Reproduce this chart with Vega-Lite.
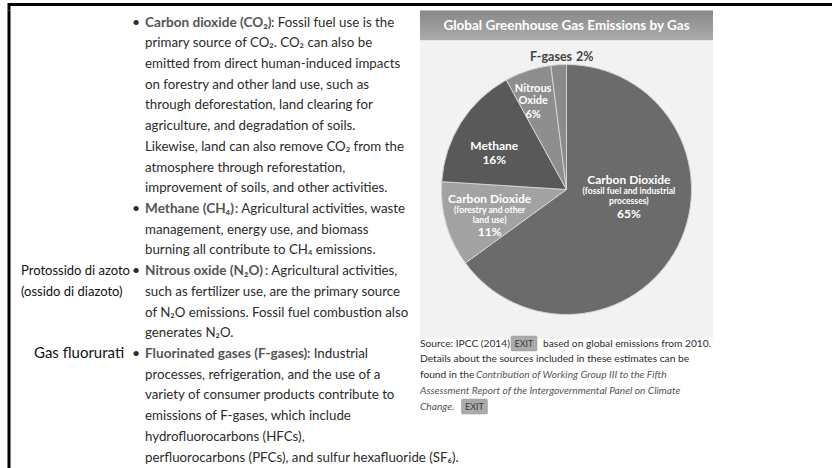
{
  "$schema": "https://vega.github.io/schema/vega-lite/v6.json",
  "padding": {"left": 7, "top": 2.5, "right": 0, "bottom": 0},
  "background": "white",
  "bounds": "flush",
  "spacing": 0,
  "datasets": {
    "body": [
      {"line": 1, "col": "body", "kind": "bullet", "text": "•"},
      {"line": 1, "col": "body", "kind": "head", "text": "Carbon dioxide (CO₂)"},
      {"line": 1, "col": "body", "kind": "rest1", "text": ": Fossil fuel use is the"},
      {"line": 2, "col": "body", "kind": "plain", "text": "primary source of CO₂.  CO₂ can also be"},
      {"line": 3, "col": "body", "kind": "plain", "text": "emitted from direct human-induced impacts"},
      {"line": 4, "col": "body", "kind": "plain", "text": "on forestry and other land use, such as"},
      {"line": 5, "col": "body", "kind": "plain", "text": "through deforestation, land clearing for"},
      {"line": 6, "col": "body", "kind": "plain", "text": "agriculture, and degradation of soils."},
      {"line": 7, "col": "body", "kind": "plain", "text": "Likewise, land can also remove CO₂ from the"},
      {"line": 8, "col": "body", "kind": "plain", "text": "atmosphere through reforestation,"},
      {"line": 9, "col": "body", "kind": "plain", "text": "improvement of soils, and other activities."},
      {"line": 10, "col": "body", "kind": "bullet", "text": "•"},
      {"line": 10, "col": "body", "kind": "head", "text": "Methane (CH₄)"},
      {"line": 10, "col": "body", "kind": "rest2", "text": ": Agricultural activities, waste"},
      {"line": 11, "col": "body", "kind": "plain", "text": "management, energy use, and biomass"},
      {"line": 12, "col": "body", "kind": "plain", "text": "burning all contribute to CH₄ emissions."},
      {"line": 13, "col": "note", "kind": "note", "text": "Protossido di azoto"},
      {"line": 14, "col": "note", "kind": "note", "text": "(ossido di diazoto)"},
      {"line": 13, "col": "body", "kind": "bullet", "text": "•"},
      {"line": 13, "col": "body", "kind": "head", "text": "Nitrous oxide (N₂O)"},
      {"line": 13, "col": "body", "kind": "rest3", "text": ": Agricultural activities,"},
      {"line": 14, "col": "body", "kind": "plain", "text": "such as fertilizer use, are the primary source"},
      {"line": 15, "col": "body", "kind": "plain", "text": "of N₂O emissions. Fossil fuel combustion also"},
      {"line": 16, "col": "body", "kind": "plain", "text": "generates N₂O."},
      {"line": 17, "col": "note", "kind": "note2", "text": "Gas fluorurati"},
      {"line": 17, "col": "body", "kind": "bullet", "text": "•"},
      {"line": 17, "col": "body", "kind": "head", "text": "Fluorinated gases (F-gases)"},
      {"line": 17, "col": "body", "kind": "rest4", "text": ": Industrial"},
      {"line": 18, "col": "body", "kind": "plain", "text": "processes, refrigeration, and the use of a"},
      {"line": 19, "col": "body", "kind": "plain", "text": "variety of consumer products contribute to"},
      {"line": 20, "col": "body", "kind": "plain", "text": "emissions of F-gases, which include"},
      {"line": 21, "col": "body", "kind": "plain", "text": "hydrofluorocarbons (HFCs),"},
      {"line": 22, "col": "body", "kind": "plain", "text": "perfluorocarbons (PFCs), and sulfur hexafluoride (SF₆)."}
    ],
    "pie": [
      {"gas": "co2_fossil", "name": "Carbon Dioxide", "note": "(fossil fuel and industrial\nprocesses)", "share": 0.65, "order": 1},
      {"gas": "co2_forest", "name": "Carbon Dioxide", "note": "(forestry and other\nland use)", "share": 0.11, "order": 2},
      {"gas": "methane", "name": "Methane", "note": "", "share": 0.16, "order": 3},
      {"gas": "n2o", "name": "Nitrous\nOxide", "note": "", "share": 0.06, "order": 4},
      {"gas": "fgas", "name": "F-gases", "note": "", "share": 0.02, "order": 5}
    ],
    "src": [
      {"line": 1, "seg": "a", "text": "Source: IPCC (2014)"},
      {"line": 1, "seg": "b", "text": "based on global emissions from 2010."},
      {"line": 2, "seg": "a", "text": "Details about the sources included in these estimates can be"},
      {"line": 3, "seg": "a", "text": "found in the"},
      {"line": 3, "seg": "link3", "text": "Contribution of Working Group III to the Fifth"},
      {"line": 4, "seg": "link", "text": "Assessment Report of the Intergovernmental Panel on Climate"},
      {"line": 5, "seg": "link", "text": "Change."}
    ],
    "badges": [
      {"line": 1, "badge": "b1", "text": "EXIT"},
      {"line": 5, "badge": "b2", "text": "EXIT"}
    ]
  },
  "vconcat": [
    {
      "width": 830,
      "height": 6,
      "data": {"values": []},
      "view": {"stroke": "black", "strokeWidth": 3, "strokeDash": [830, 836, 6]},
      "mark": {"type": "text"},
      "encoding": {"text": {"value": ""}}
    },
    {
      "bounds": "flush",
      "spacing": 0,
      "hconcat": [
        {
          "width": 411,
          "height": 460,
          "data": {"name": "body"},
          "view": {"stroke": "black", "strokeWidth": 3, "strokeDash": [0, 1282, 460]},
          "encoding": {
            "x": {"field": "col", "type": "nominal", "scale": {"type": "point", "domain": ["note", "body"], "range": [12, 136], "padding": 0}, "axis": null},
            "y": {"field": "line", "type": "quantitative", "scale": {"domain": [1, 22], "range": [12, 447]}, "axis": null},
            "text": {"field": "text"}
          },
          "layer": [
            {"transform": [{"filter": "datum.kind === 'plain'"}], "mark": {"type": "text", "align": "left", "baseline": "middle", "font": "Lato", "fontSize": 13.3, "fill": "#2b2b2b"}},
            {"transform": [{"filter": "datum.kind === 'head'"}], "mark": {"type": "text", "align": "left", "baseline": "middle", "font": "Lato", "fontSize": 13.6, "fontWeight": "bold", "fill": "#555555"}},
            {"transform": [{"filter": "datum.kind === 'bullet'"}], "mark": {"type": "text", "align": "center", "baseline": "middle", "font": "Lato", "fontSize": 14, "dx": -9, "fill": "#2b2b2b"}},
            {"transform": [{"filter": "datum.kind === 'rest1'"}], "mark": {"type": "text", "align": "left", "baseline": "middle", "font": "Lato", "fontSize": 13.3, "dx": 126, "fill": "#2b2b2b"}},
            {"transform": [{"filter": "datum.kind === 'rest2'"}], "mark": {"type": "text", "align": "left", "baseline": "middle", "font": "Lato", "fontSize": 13.3, "dx": 90, "fill": "#2b2b2b"}},
            {"transform": [{"filter": "datum.kind === 'rest3'"}], "mark": {"type": "text", "align": "left", "baseline": "middle", "font": "Lato", "fontSize": 13.3, "dx": 120, "fill": "#2b2b2b"}},
            {"transform": [{"filter": "datum.kind === 'rest4'"}], "mark": {"type": "text", "align": "left", "baseline": "middle", "font": "Lato", "fontSize": 13.3, "dx": 162, "fill": "#2b2b2b"}},
            {"transform": [{"filter": "datum.kind === 'note'"}], "mark": {"type": "text", "align": "left", "baseline": "middle", "font": "Lato", "fontSize": 13, "fill": "#111"}},
            {"transform": [{"filter": "datum.kind === 'note2'"}], "mark": {"type": "text", "align": "left", "baseline": "middle", "font": "Lato", "fontSize": 15, "dx": 13, "dy": -1, "fill": "#111"}}
          ]
        },
        {
          "bounds": "flush",
          "spacing": 0,
          "vconcat": [
            {
              "width": 293,
              "height": 30,
              "data": {"values": [{"title": "Global Greenhouse Gas Emissions by Gas"}]},
              "view": {"stroke": null, "fill": {"gradient": "linear", "x1": 0, "y1": 0, "x2": 0, "y2": 1, "stops": [{"offset": 0, "color": "#888888"}, {"offset": 1, "color": "#acacac"}]}},
              "mark": {"type": "text", "font": "Lato", "fontSize": 13.5, "fontWeight": "bold", "fill": "white", "baseline": "middle", "align": "center"},
              "encoding": {"text": {"field": "title"}}
            },
            {
              "width": 293,
              "height": 298,
              "data": {"name": "pie"},
              "view": {"stroke": null, "fill": "#f2f2f2"},
              "encoding": {
                "theta": {"field": "share", "type": "quantitative", "stack": true},
                "order": {"field": "order", "type": "quantitative"}
              },
              "layer": [
                {
                  "mark": {"type": "arc", "outerRadius": 125, "stroke": "#d2d2d2", "strokeWidth": 1},
                  "encoding": {
                    "color": {"field": "gas", "type": "nominal", "legend": null,
                      "scale": {"domain": ["co2_fossil", "co2_forest", "methane", "n2o", "fgas"], "range": ["#6b6b6b", "#a2a2a2", "#595959", "#8e8e8e", "#8b8b8b"]}}
                  }
                },
                {"mark": {"type": "text", "radius": 70, "dy": -41, "font": "Lato", "fontSize": 12, "fontWeight": "bold", "fill": "white"},
                 "encoding": {"text": {"condition": {"test": "datum.gas === 'co2_fossil'", "field": "name"}, "value": ""}}},
                {"mark": {"type": "text", "radius": 70, "dy": -30, "font": "Lato", "fontSize": 8.6, "fontWeight": "bold", "fill": "white", "lineBreak": "\n", "lineHeight": 9.5},
                 "encoding": {"text": {"condition": {"test": "datum.gas === 'co2_fossil'", "field": "note"}, "value": ""}}},
                {"mark": {"type": "text", "radius": 70, "dy": -7, "font": "Lato", "fontSize": 12, "fontWeight": "bold", "fill": "white"},
                 "encoding": {"text": {"condition": {"test": "datum.gas === 'co2_fossil'", "field": "share", "type": "quantitative", "format": ".0%"}, "value": ""}}},
                {"mark": {"type": "text", "radius": 80, "dy": -13, "font": "Lato", "fontSize": 12, "fontWeight": "bold", "fill": "white"},
                 "encoding": {"text": {"condition": {"test": "datum.gas === 'co2_forest'", "field": "name"}, "value": ""}}},
                {"mark": {"type": "text", "radius": 80, "dy": -2, "font": "Lato", "fontSize": 8.6, "fontWeight": "bold", "fill": "white", "lineBreak": "\n", "lineHeight": 10},
                 "encoding": {"text": {"condition": {"test": "datum.gas === 'co2_forest'", "field": "note"}, "value": ""}}},
                {"mark": {"type": "text", "radius": 80, "dy": 20, "font": "Lato", "fontSize": 12, "fontWeight": "bold", "fill": "white"},
                 "encoding": {"text": {"condition": {"test": "datum.gas === 'co2_forest'", "field": "share", "type": "quantitative", "format": ".0%"}, "value": ""}}},
                {"mark": {"type": "text", "radius": 82, "dx": -3, "dy": 0, "font": "Lato", "fontSize": 12, "fontWeight": "bold", "fill": "white"},
                 "encoding": {"text": {"condition": {"test": "datum.gas === 'methane'", "field": "name"}, "value": ""}}},
                {"mark": {"type": "text", "radius": 82, "dx": -3, "dy": 14, "font": "Lato", "fontSize": 12, "fontWeight": "bold", "fill": "white"},
                 "encoding": {"text": {"condition": {"test": "datum.gas === 'methane'", "field": "share", "type": "quantitative", "format": ".0%"}, "value": ""}}},
                {"mark": {"type": "text", "radius": 95, "dx": -4, "dy": -10, "font": "Lato", "fontSize": 11, "fontWeight": "bold", "fill": "white", "lineBreak": "\n", "lineHeight": 11.5},
                 "encoding": {"text": {"condition": {"test": "datum.gas === 'n2o'", "field": "name"}, "value": ""}}},
                {"mark": {"type": "text", "radius": 95, "dx": -4, "dy": 16, "font": "Lato", "fontSize": 11, "fontWeight": "bold", "fill": "white"},
                 "encoding": {"text": {"condition": {"test": "datum.gas === 'n2o'", "field": "share", "type": "quantitative", "format": ".0%"}, "value": ""}}},
                {"mark": {"type": "text", "radius": 134, "dx": 14, "dy": 1, "align": "right", "font": "Lato", "fontSize": 12.5, "fontWeight": "bold", "fill": "#444444"},
                 "encoding": {"text": {"condition": {"test": "datum.gas === 'fgas'", "field": "name"}, "value": ""}}},
                {"mark": {"type": "text", "radius": 134, "dx": 18, "dy": 1, "align": "left", "font": "Lato", "fontSize": 12.5, "fontWeight": "bold", "fill": "#444444"},
                 "encoding": {"text": {"condition": {"test": "datum.gas === 'fgas'", "field": "share", "type": "quantitative", "format": ".0%"}, "value": ""}}}
              ]
            },
            {
              "width": 293,
              "height": 90,
              "resolve": {"scale": {"x": "independent"}},
              "layer": [
                {
                  "data": {"name": "src"},
                  "encoding": {
                    "x": {"field": "seg", "type": "nominal", "scale": {"type": "point", "domain": ["a", "b", "link3", "link"], "range": [0, 0], "padding": 0}, "axis": null},
                    "y": {"field": "line", "type": "quantitative", "scale": {"domain": [1, 5], "range": [5, 68]}, "axis": null},
                    "text": {"field": "text"}
                  },
                  "layer": [
                    {"transform": [{"filter": "datum.seg === 'a'"}], "mark": {"type": "text", "align": "left", "baseline": "middle", "font": "Lato", "fontSize": 10.2, "fill": "#2b2b2b"}},
                    {"transform": [{"filter": "datum.seg === 'b'"}], "mark": {"type": "text", "align": "left", "baseline": "middle", "font": "Lato", "fontSize": 10.2, "dx": 123, "fill": "#2b2b2b"}},
                    {"transform": [{"filter": "datum.seg === 'link3'"}], "mark": {"type": "text", "align": "left", "baseline": "middle", "font": "Lato", "fontSize": 10.2, "fontStyle": "italic", "dx": 56, "fill": "#555555"}},
                    {"transform": [{"filter": "datum.seg === 'link'"}], "mark": {"type": "text", "align": "left", "baseline": "middle", "font": "Lato", "fontSize": 10.2, "fontStyle": "italic", "fill": "#555555"}}
                  ]
                },
                {
                  "data": {"name": "badges"},
                  "encoding": {
                    "x": {"field": "badge", "type": "nominal", "scale": {"type": "point", "domain": ["b2", "b1"], "range": [54.5, 104], "padding": 0}, "axis": null},
                    "y": {"field": "line", "type": "quantitative", "scale": {"domain": [1, 5], "range": [5, 68]}, "axis": null}
                  },
                  "layer": [
                    {"mark": {"type": "point", "filled": true, "shape": "M-1.6,-1H1.6Q1.73,-1,1.73,-0.85V0.85Q1.73,1,1.6,1H-1.6Q-1.73,1,-1.73,0.85V-0.85Q-1.73,-1,-1.6,-1Z", "size": 225, "fill": "#ababab", "stroke": "#9a9a9a", "strokeWidth": 0.5, "opacity": 1}},
                    {"mark": {"type": "text", "align": "center", "baseline": "middle", "font": "Lato", "fontSize": 9, "fill": "#3a3a3a"}, "encoding": {"text": {"field": "text"}}}
                  ]
                }
              ]
            }
          ]
        }
      ]
    }
  ],
  "config": {
    "view": {"stroke": null},
    "text": {"font": "Lato"}
  }
}
